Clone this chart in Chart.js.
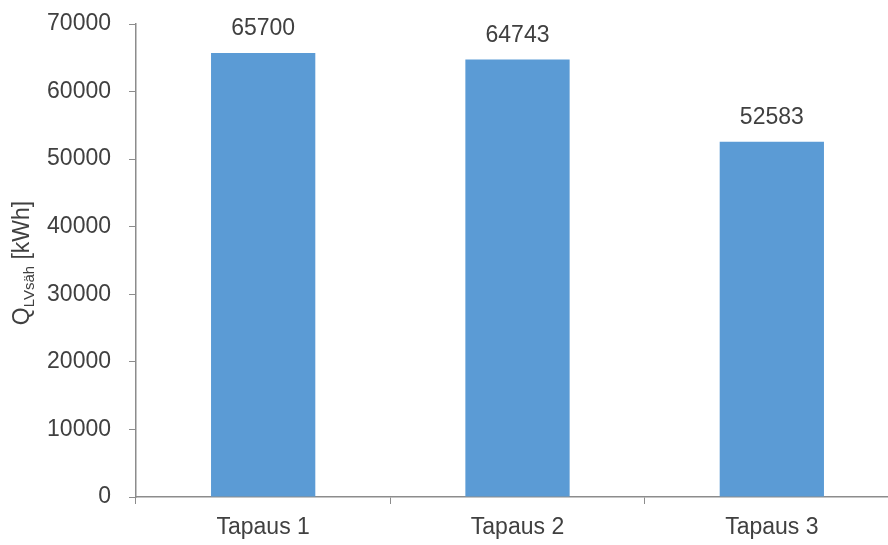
<!DOCTYPE html>
<html>
<head>
<meta charset="utf-8">
<script src="https://cdn.jsdelivr.net/npm/chart.js@4.4.0/dist/chart.umd.min.js"></script>
<style>
  html, body { margin: 0; padding: 0; background: #fff; overflow: hidden; }
  #wrap { width: 888px; height: 545px; overflow: hidden; }
</style>
</head>
<body>
<div id="wrap"><canvas id="qChart" width="899" height="545"></canvas></div>
<script>
const categories = ['Tapaus 1', 'Tapaus 2', 'Tapaus 3'];
const energyValues = [65700, 64743, 52583];
const yTicks = [0, 10000, 20000, 30000, 40000, 50000, 60000, 70000];

const textColor = '#404040';
const axisColor = '#8c8c8c';
const fontFamily = '"Liberation Sans", Arial, sans-serif';

// value labels above the bars
const barLabels = {
    id: 'barLabels',
    afterDatasetsDraw(chart) {
        const ctx = chart.ctx;
        const meta = chart.getDatasetMeta(0);
        ctx.save();
        ctx.font = '23px ' + fontFamily;
        ctx.fillStyle = textColor;
        ctx.textAlign = 'center';
        ctx.textBaseline = 'alphabetic';
        meta.data.forEach(function(bar, i) {
            ctx.fillText(String(energyValues[i]), bar.x, bar.y - 18);
        });
        ctx.restore();
    }
};

// y axis title with subscript
const yTitle = {
    id: 'yTitle',
    afterDraw(chart) {
        const ctx = chart.ctx;
        const big = '23px ' + fontFamily;
        const small = '15px ' + fontFamily;
        ctx.save();
        ctx.fillStyle = textColor;
        ctx.textBaseline = 'alphabetic';
        ctx.font = big;
        const w1 = ctx.measureText('Q').width;
        const w3 = ctx.measureText(' [kWh]').width;
        ctx.font = small;
        const w2 = ctx.measureText('LVsäh').width;
        const total = w1 + w2 + w3;
        ctx.translate(29, 263);
        ctx.rotate(-Math.PI / 2);
        let x = -total / 2;
        ctx.font = big;
        ctx.fillText('Q', x, 0);
        x += w1;
        ctx.font = small;
        ctx.fillText('LVsäh', x, 5);
        x += w2;
        ctx.font = big;
        ctx.fillText(' [kWh]', x, 0);
        ctx.restore();
    }
};

const ctx = document.getElementById('qChart').getContext('2d');
const qChart = new Chart(ctx, {
    type: 'bar',
    data: {
        labels: categories,
        datasets: [{
            data: energyValues,
            backgroundColor: '#5b9bd5',
            borderWidth: 0,
            categoryPercentage: 1.0,
            barPercentage: 0.41
        }]
    },
    options: {
        responsive: false,
        animation: false,
        layout: { padding: { top: 24, right: 0, left: 0, bottom: 0 } },
        plugins: {
            legend: { display: false },
            tooltip: { enabled: false }
        },
        scales: {
            x: {
                grid: {
                    display: true,
                    offset: true,
                    drawOnChartArea: false,
                    drawTicks: true,
                    tickLength: 7,
                    color: axisColor
                },
                border: { color: axisColor, width: 1.5 },
                ticks: {
                    color: textColor,
                    font: { size: 23, family: fontFamily },
                    padding: 10
                },
                afterFit(scale) {
                    scale.height = 48;
                    scale.paddingLeft = 0;
                    scale.paddingRight = 0;
                }
            },
            y: {
                min: 0,
                max: 70000,
                afterBuildTicks(scale) {
                    scale.ticks = yTicks.map(v => ({ value: v }));
                },
                grid: {
                    display: true,
                    drawOnChartArea: false,
                    drawTicks: true,
                    tickLength: 7,
                    color: axisColor
                },
                border: { color: axisColor, width: 1.5 },
                ticks: {
                    color: textColor,
                    font: { size: 23, family: fontFamily },
                    padding: 18,
                    callback: function(value) { return String(value); }
                },
                afterFit(scale) {
                    scale.width = 136;
                    scale.paddingTop = 0;
                    scale.paddingBottom = 0;
                }
            }
        }
    },
    plugins: [barLabels, yTitle]
});
</script>
</body>
</html>
